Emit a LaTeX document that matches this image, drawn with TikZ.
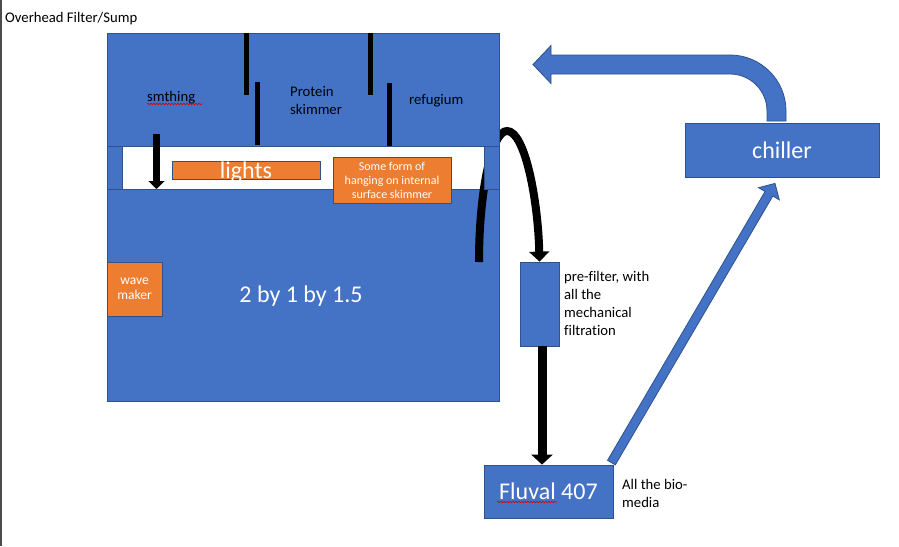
\documentclass[tikz,border=0pt]{standalone}
\usepackage{fontspec}
\setmainfont{Carlito}[Ligatures={NoCommon}]
\usetikzlibrary{arrows.meta, calc, decorations.pathmorphing}

\definecolor{office}{RGB}{68,114,196}
\definecolor{edge}{RGB}{47,82,143}
\definecolor{orng}{RGB}{237,125,49}

\tikzset{
  tank/.style={draw=edge, fill=office, line width=0.8pt},
  bluebox/.style={draw=edge, fill=office, line width=0.8pt, text=white, inner sep=0pt},
  orangebox/.style={draw=edge, fill=orng, line width=0.8pt, text=white, inner sep=0pt, align=center},
  note/.style={font=\fontsize{14.7}{17.8}\selectfont, inner sep=0pt},
  bigtext/.style={font=\fontsize{24}{29}\selectfont, text=white, inner sep=0pt},
  wall/.style={fill=black},
  pipe/.style={line width=8pt, -{Triangle[width=20pt,length=10pt]}},
  blockarrow/.style={draw=edge, fill=office, line width=0.8pt, line join=miter},
  squiggle/.style={red!85!black, line width=0.6pt, decorate,
    decoration={snake, amplitude=0.8pt, segment length=3pt}},
}

\begin{document}
\begin{tikzpicture}[x=1pt, y=-1pt]
  \useasboundingbox[fill=white] (0,0) rectangle (899,546);
  \draw[black!70, line width=1.2pt] (1,0) -- (1,546);

  % Titel
  \node[note, anchor=base west] (title) at (5,22) {Overhead Filter/Sump};

  % Tank, unterer Teil
  \draw[tank] (107,189) rectangle (499,401);
  \node[bigtext, anchor=base] (size) at (301,302) {2 by 1 by 1.5};
  \node[orangebox, font=\fontsize{13.5}{15}\selectfont, minimum width=55pt, minimum height=54pt]
    (wave) at (134.5,289) {wave\\maker};

  % Vorfilter und Fluval
  \node[bluebox, minimum width=39pt, minimum height=84pt] (pf) at (539.5,304) {};
  \node[bluebox, bigtext, minimum width=129pt, minimum height=53pt] (fv) at (548.5,491.5) {Fluval 407};
  \draw[squiggle] (497,502) -- (557,502);
  \node[bluebox, bigtext, minimum width=194pt, minimum height=54pt] (ch) at (782,150) {chiller};

  % Heber ueber die rechte Wand (hinter dem Tank)
  \coordinate (sin) at (479,262);
  \draw[pipe] (sin) .. controls (479,190) and (492,131) .. (507,131)
    .. controls (525,131) and (538,200) .. (pf.north);

  % Tank, oberer Teil und Pfosten
  \draw[tank] (107,33) rectangle (499,146);
  \draw[tank] (107,146) rectangle (122,189);
  \draw[tank] (484,146) rectangle (499,189);

  % Trennwaende
  \fill[wall] (243.5,33) rectangle (248.5,95);
  \fill[wall] (254.5,82) rectangle (259.5,145);
  \fill[wall] (368,33) rectangle (373,95);
  \fill[wall] (387,83) rectangle (392,146);

  % Kammern
  \node[note, anchor=base west] (smth) at (147,101) {smthing};
  \draw[squiggle] (147,104) -- (202,104);
  \node[note, anchor=north west, align=left] (skim) at (290,86) {Protein\\skimmer};
  \node[note, anchor=base west] (refu) at (409,104) {refugium};

  % Licht und Oberflaechenabsauger
  \node[orangebox, minimum width=148pt, minimum height=18pt] (lights) at (246,170) {};
  \node[bigtext, text depth=0pt] at (lights) {lights};
  \node[orangebox, font=\fontsize{12}{14}\selectfont, minimum width=118pt, minimum height=46pt]
    (surf) at (392,180) {Some form of\\hanging on internal\\surface skimmer};

  % Pfeil in den Tank
  \coordinate (dropa) at (156.5,134);
  \coordinate (dropb) at (156.5,189);
  \draw[line width=7pt, -{Triangle[width=16pt,length=8pt]}] (dropa) -- (dropb);

  % Vorfilter -> Fluval
  \coordinate (pfout) at ($(pf.south)+(2.5,0)$);
  \draw[line width=9pt, -{Triangle[width=21pt,length=10pt]}] (pfout) -- (pfout |- fv.north);

  % Texte
  \node[note, anchor=north west, align=left] (pftext) at (564,271.5)
    {pre-filter, with\\all the\\mechanical\\filtration};
  \node[note, anchor=north west, align=left] (bio) at (622,479.5) {All the bio-\\media};

  % Fluval -> chiller
  \coordinate (bs) at ($(fv.north east)+(-2,-2)$);
  \coordinate (bt) at ($(ch.south)+(-7,6)$);
  \coordinate (bh) at ($(bt)!12pt!(bs)$);
  \draw[blockarrow] ($(bs)!4.5pt!90:(bt)$) -- ($(bh)!4.5pt!90:(bt)$) -- ($(bh)!12pt!90:(bt)$)
    -- (bt) -- ($(bh)!12pt!-90:(bt)$) -- ($(bh)!4.5pt!-90:(bt)$) -- ($(bs)!4.5pt!-90:(bt)$) -- cycle;

  % chiller -> Tank
  \draw[blockarrow] (767,121) -- (767,111) .. controls (767,90.6) and (750.4,74) .. (730,74)
    -- (551,74) -- (551,83.5) -- (533,64.5) -- (551,45.5) -- (551,55) -- (730,55)
    .. controls (760.9,55) and (786,80.1) .. (786,111) -- (786,121) -- cycle;
\end{tikzpicture}
\end{document}
